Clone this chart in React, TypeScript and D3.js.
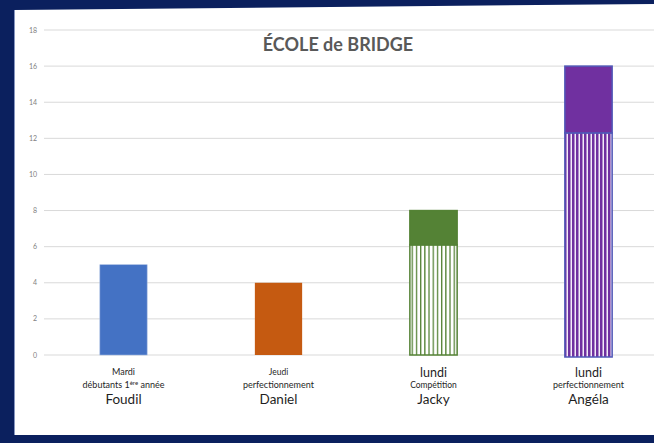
import React, { useEffect } from "react";
import * as d3 from "d3";

const names = ["Foudil", "Daniel", "Jacky", "Angéla"];
const days = ["Mardi", "Jeudi", "lundi", "lundi"];
const groups = ["débutants 1ère année", "perfectionnement", "Compétition", "perfectionnement"];
const hatchedValues = [0, 0, 6.1, 12.3];
const solidValues = [5, 4, 1.9, 3.7];
const yTicks = [0, 2, 4, 6, 8, 10, 12, 14, 16, 18];

const barColors = ["#4472C4", "#C55A11", "#548235", "#7030A0"];
const dayFont = [9, 8.5, 12.5, 12.5];
const groupFont = [9, 9, 8.5, 9];

const W = 654;
const H = 443;

const renderGroup = (g: string) => {
  const m = g.match(/^(.*\d)(ère)(.*)$/);
  if (!m) return g;
  return (
    <>
      {m[1]}
      <tspan fontSize={6} dy={-3}>{m[2]}</tspan>
      <tspan dy={3}>{m[3]}</tspan>
    </>
  );
};

export default function App() {
  useEffect(() => {
    document.body.style.margin = "0";
  }, []);

  const x = d3.scaleBand<string>().domain(names).range([46, 666]);
  const y = d3.scaleLinear().domain([0, 18]).range([355, 30]);
  const barW = x.bandwidth() * 0.305;
  const font = "Lato, 'Open Sans', sans-serif";

  return (
    <svg width={W} height={H} style={{ display: "block" }} fontFamily={font}>
      <defs>
        <pattern id="hatch-green" patternUnits="userSpaceOnUse" width={4.2} height={4}>
          <rect width={4.2} height={4} fill="#ffffff" />
          <rect width={1.3} height={4} fill="#548235" />
        </pattern>
        <pattern id="hatch-purple" patternUnits="userSpaceOnUse" width={4} height={4}>
          <rect width={4} height={4} fill="#f3ecf8" />
          <rect width={2.5} height={4} fill="#7030A0" />
        </pattern>
      </defs>
      <rect width={W} height={H} fill="#0b205e" />
      <polygon points={`14,10 ${W},4 ${W},435 14,435`} fill="#ffffff" />
      <line x1={14.5} y1={10} x2={14.5} y2={435} stroke="#8796c0" strokeWidth={1} />

      {yTicks.map((t) => (
        <g key={t}>
          <line x1={44} x2={W} y1={y(t)} y2={y(t)} stroke="#d9d9d9" strokeWidth={1} />
          <text x={37} y={y(t) + 2.5} fontSize={7} fill="#7f7f7f" textAnchor="end">
            {t}
          </text>
        </g>
      ))}

      <text x={338} y={51} textAnchor="middle" fontSize={18} fontWeight="bold" fill="#595959">
        ÉCOLE de BRIDGE
      </text>

      {names.map((n, i) => {
        const cx = (x(n) ?? 0) + x.bandwidth() / 2;
        const x0 = cx - barW / 2;
        const h0 = hatchedValues[i];
        const top = h0 + solidValues[i];
        const hatchId = i === 2 ? "hatch-green" : "hatch-purple";
        const outline = i === 3 ? "#5058b8" : i === 2 ? "#548235" : "none";
        return (
          <g key={n}>
            {h0 > 0 && (
              <rect
                x={x0}
                y={y(h0)}
                width={barW}
                height={y(0) - y(h0) + (i === 3 ? 2 : 0)}
                fill={`url(#${hatchId})`}
                stroke={outline}
                strokeWidth={1.5}
              />
            )}
            <rect
              x={x0}
              y={y(top)}
              width={barW}
              height={y(h0) - y(top)}
              fill={barColors[i]}
              stroke={outline === "none" ? "#9fb6e0" : outline}
              strokeWidth={outline === "none" ? (i === 0 ? 0.6 : 0) : 1.5}
            />
            <text x={cx} y={dayFont[i] > 10 ? 377 : 374.5} textAnchor="middle" fontSize={dayFont[i]} fill="#1f1f1f">
              {days[i]}
            </text>
            <text x={cx} y={387.5} textAnchor="middle" fontSize={groupFont[i]} fill="#1f1f1f">
              {renderGroup(groups[i])}
            </text>
            <text x={cx} y={404} textAnchor="middle" fontSize={13.5} fill="#1f1f1f">
              {n}
            </text>
          </g>
        );
      })}
    </svg>
  );
}
